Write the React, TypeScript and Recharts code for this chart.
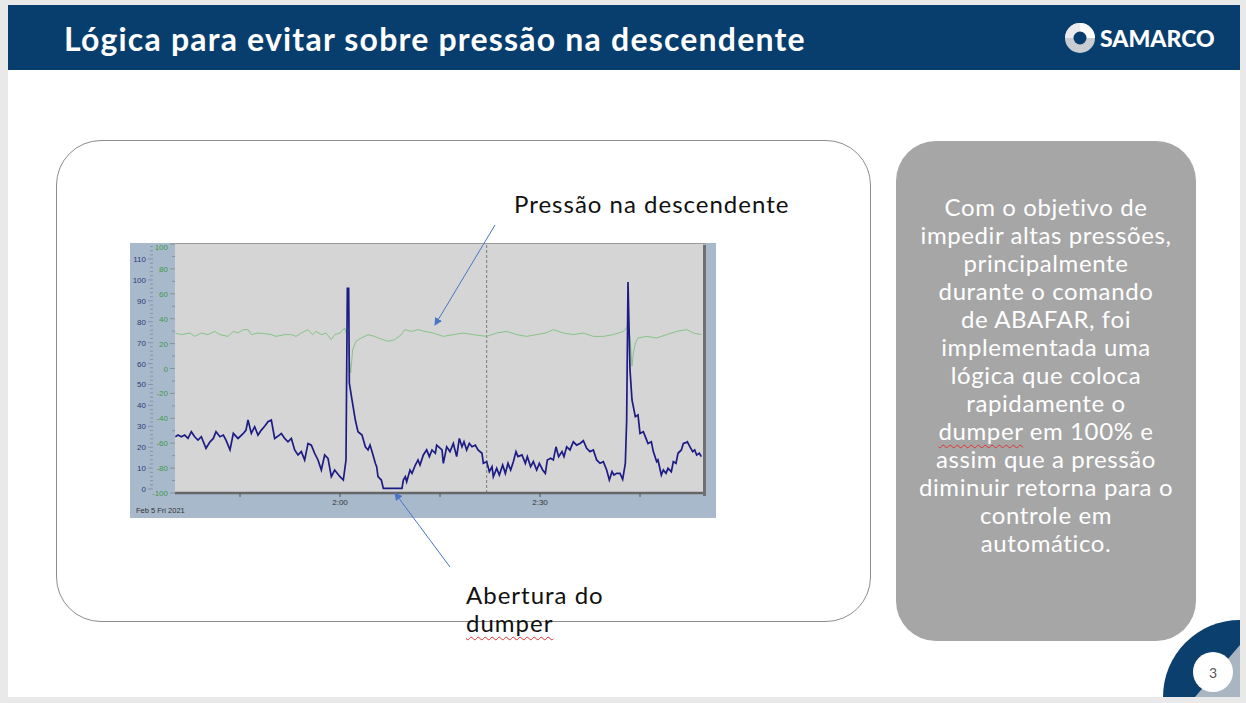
import React from "react";
import {
  ComposedChart,
  Line,
  XAxis,
  YAxis,
  CartesianGrid,
  ReferenceLine,
} from "recharts";

// ---- Data (time in minutes since midnight) ----
const blueTimes = [
  95.3, 95.7, 96.2, 96.7, 97.2, 97.7, 98.2, 98.7, 99.2, 99.9, 100.5, 101.0, 101.4, 102.0, 102.5, 102.9,
  103.5, 104.0, 104.7, 105.5, 105.9, 106.2, 106.7, 107.2, 107.7, 108.2, 108.7, 109.2, 109.7, 110.2,
  110.9, 111.2, 111.7, 112.2, 112.7, 113.2, 113.7, 114.2, 114.7, 115.2, 115.7, 116.2, 116.7, 117.2,
  117.7, 118.2, 118.7, 119.2, 120.0, 120.5, 120.9, 121.1, 121.3, 121.4, 121.8, 122.3, 122.7, 123.3,
  123.8, 124.2, 124.5, 124.8, 125.3, 125.5, 125.7, 126.2, 126.5, 129.3, 129.5, 129.8, 130.0, 130.5,
  130.8, 131.3, 131.7, 132.0, 132.5, 133.0, 133.4, 133.8, 134.3, 134.5, 135.3, 135.5, 136.0, 136.5,
  137.0, 137.5, 137.9, 138.3, 138.6, 139.0, 139.4, 139.8, 140.3, 140.7, 141.3, 141.5, 142.0, 142.4,
  142.8, 143.0, 143.5, 143.9, 144.4, 144.8, 145.2, 145.6, 146.0, 146.4, 146.7, 147.3, 147.8, 148.1,
  148.6, 149.0, 149.5, 149.9, 150.4, 150.8, 151.1, 151.6, 152.0, 152.4, 152.8, 153.3, 153.6, 154.0,
  154.5, 155.0, 155.5, 156.0, 156.5, 157.0, 157.5, 158.0, 158.5, 159.0, 159.5, 160.0, 160.4, 160.8,
  161.1, 161.5, 162.0, 162.4, 162.8, 163.0, 163.2, 163.5, 163.8, 164.3, 164.7, 165.0, 165.5, 165.9,
  166.2, 166.7, 167.0, 167.5, 167.7, 168.2, 168.5, 168.9, 169.2, 169.7, 170.0, 170.4, 170.7, 171.2,
  171.5, 171.9, 172.1, 172.5, 172.9, 173.2, 173.5, 173.9, 174.2,
];
const blueValues = [
  25, 25.8, 25, 25.8, 24.2, 27.4, 25, 23.4, 25, 19.5, 22.6, 24.2, 27.4, 25, 25.8, 23.4,
  18.7, 26.6, 24.2, 26.6, 28.2, 33, 26.6, 29.8, 25.8, 28.2, 30, 32.2, 33, 24.2,
  25.8, 26.6, 24.2, 22.6, 24.2, 18.7, 16.3, 17.9, 13.9, 21.8, 21, 17.1, 13.9, 9.1,
  16.3, 14.7, 5.9, 9.1, 5.9, 4.3, 13.9, 96, 96, 50.7, 42.6, 33, 27.4, 25.8,
  20.2, 18.7, 21, 17.9, 12.3, 10.7, 5.9, 4.3, 0.3, 0.3, 4.3, 5.9, 3.5, 9.1,
  7.5, 11.5, 13.9, 11.5, 16.3, 18.7, 15.5, 18.7, 17.1, 21, 18.7, 12.3, 20.2, 17.9,
  21.8, 15.5, 24.2, 20.2, 22.6, 18.7, 21.8, 20.2, 21, 18.7, 17.1, 12.3, 13.1, 8.3,
  10.7, 5.9, 9.9, 6.7, 11.5, 7.5, 12.3, 9.1, 13.1, 17.9, 15.5, 16.3, 12.3, 15.5,
  10.7, 13.1, 9.1, 12.3, 9.1, 7.5, 13.9, 14.7, 13.9, 20.2, 15.5, 17.9, 15.5, 20.2,
  18.7, 22.6, 21, 21.8, 23.1, 19.5, 17.9, 18.7, 13.9, 12.3, 13.1, 9.1, 4.3, 8.3,
  6.7, 7.5, 7.5, 4.6, 12.3, 33, 99, 57, 42.6, 34.6, 35.4, 26.6, 27.4, 24.2,
  21.8, 22.6, 17.9, 13.1, 13.9, 6.7, 9.1, 7.5, 9.9, 8.3, 13.1, 12.3, 17.1, 18.7,
  21.8, 22.2, 22.6, 20.2, 17.9, 18.7, 16.3, 17.1, 15.5,
];
const greenTimes = [
  95.3, 96.2, 97.5, 98.2, 99.2, 100.2, 101.2, 102.0, 103.2, 104.0, 104.7, 105.5, 106.2, 106.7, 107.7,
  108.7, 109.7, 110.4, 111.7, 112.7, 113.4, 114.2, 115.2, 115.9, 116.4, 117.2, 117.9, 118.7, 119.2,
  120.0, 120.7, 121.1, 121.6, 121.9, 122.4, 123.2, 124.2, 125.2, 126.2, 127.2, 128.2, 129.2, 129.7,
  130.7, 131.7, 132.7, 134.0, 135.5, 137.0, 138.5, 140.0, 142.0, 143.5, 145.0, 146.5, 148.0, 149.5,
  151.0, 152.0, 153.5, 155.0, 156.5, 158.0, 159.5, 161.0, 162.5, 163.1, 163.5, 163.8, 164.0, 164.3,
  164.7, 166.0, 167.5, 169.0, 170.5, 172.0, 173.0, 174.2,
];
const greenValues = [
  28.5, 27.2, 28.5, 25.8, 28.5, 27.2, 29.8, 27.2, 25.8, 29.8, 28.5, 31.2, 31.2, 27.2, 28.5,
  28, 27.2, 25.8, 27.2, 27.2, 25.8, 28.5, 31.2, 27.2, 29.8, 27.2, 28.5, 23.2, 27.2,
  28.5, 32.5, 25.8, -3.5, 15.2, 21.8, 24.5, 27.2, 25.8, 23.7, 21.8, 23.2, 27.2, 31.2,
  29.8, 31.2, 29.8, 28.5, 25.8, 27.2, 28.5, 27.2, 25.8, 28.5, 29.8, 27.2, 25.8, 27.2,
  28.8, 31.2, 28.5, 27.2, 28.5, 25.8, 25.8, 27.2, 29.8, 33.3, 25.8, 1.9, 12.5, 20.5,
  24.5, 25.8, 24.5, 27.2, 29.8, 31.2, 28.5, 27.2,
];
const xTicks = [105, 120, 135, 150, 165];
const xTickLabels: Record<number, string> = { 120: "2:00", 150: "2:30" };
const cursorTime = 142;
const blueTicks: number[] = [];
for (let v = 0; v <= 116; v += 2) blueTicks.push(v);
const greenTicks: number[] = [];
for (let v = -100; v <= 100; v += 10) greenTicks.push(v);

const blueData = blueTimes.map((t, i) => ({ t, v: blueValues[i] }));
const greenData = greenTimes.map((t, i) => ({ t, v: greenValues[i] }));

const textLines = [
  "Com o objetivo de",
  "impedir altas pressões,",
  "principalmente",
  "durante o comando",
  "de ABAFAR, foi",
  "implementada uma",
  "lógica que coloca",
  "rapidamente o",
  "DUMPER_LINE",
  "assim que a pressão",
  "diminuir retorna para o",
  "controle em",
  "automático.",
];

const wavy: React.CSSProperties = {
  textDecorationLine: "underline",
  textDecorationStyle: "wavy",
  textDecorationColor: "#e03030",
  textDecorationThickness: "1px",
  textUnderlineOffset: "4px",
};

const BlueTick = (props: any) => {
  const { x, y, payload } = props;
  const v = payload.value;
  const major = v % 10 === 0;
  return (
    <g>
      <line x1={x + (major ? 2 : 4)} x2={x + 7} y1={y} y2={y} stroke="#7a8aa6" strokeWidth={0.8} />
      {major && (
        <text x={x} y={y} dy={3} textAnchor="end" fontSize={8} fill="#2d3a78" fontFamily="Liberation Sans, Arial">
          {v}
        </text>
      )}
    </g>
  );
};

const GreenTick = (props: any) => {
  const { x, y, payload } = props;
  const v = payload.value;
  const major = v % 20 === 0;
  return (
    <g>
      <line x1={x + (major ? 2 : 4)} x2={x + 7} y1={y} y2={y} stroke="#7a8a8a" strokeWidth={0.8} />
      {major && (
        <text x={x} y={y} dy={v === 100 ? 6 : 3} textAnchor="end" fontSize={8} fill="#3f9a45" fontFamily="Liberation Sans, Arial">
          {v}
        </text>
      )}
    </g>
  );
};

const TimeTick = (props: any) => {
  const { x, y, payload } = props;
  const label = xTickLabels[payload.value] || "";
  return (
    <text x={x} y={y} dy={6} textAnchor="middle" fontSize={8} fill="#333" fontFamily="Liberation Sans, Arial">
      {label}
    </text>
  );
};

function TrendChart() {
  return (
    <div style={{ position: "absolute", left: 130, top: 243, width: 586, height: 275, background: "#a9b9cc" }}>
      <ComposedChart width={586} height={275} margin={{ top: 1, right: 13, bottom: 0, left: 0 }}>
        <CartesianGrid fill="#d5d5d5" horizontal={false} vertical={false} stroke="none" />
        <XAxis
          type="number"
          dataKey="t"
          domain={[95.25, 174.45]}
          allowDataOverflow
          ticks={xTicks}
          interval={0}
          height={25}
          tick={<TimeTick />}
          tickSize={4}
          tickMargin={2}
          stroke="#666"
          axisLine={{ stroke: "#666", strokeWidth: 2.5 }}
          tickLine={{ stroke: "#555" }}
        />
        <YAxis
          yAxisId="a1"
          type="number"
          domain={[-100, 100]}
          ticks={greenTicks}
          interval={0}
          width={22}
          tickSize={5}
          tickMargin={2}
          tickLine={false}
          axisLine={false}
          tick={<GreenTick />}
        />
        <YAxis
          yAxisId="a2"
          type="number"
          domain={[-1.9, 117.2]}
          allowDataOverflow
          ticks={blueTicks}
          interval={0}
          width={23}
          tickSize={5}
          tickMargin={2}
          tickLine={false}
          axisLine={false}
          tick={<BlueTick />}
        />
        <ReferenceLine x={cursorTime} yAxisId="a2" stroke="#7a7a7a" strokeDasharray="3 2" />
        <Line
          yAxisId="a1"
          data={greenData}
          dataKey="v"
          type="linear"
          stroke="#86c486"
          strokeWidth={1}
          dot={false}
          isAnimationActive={false}
        />
        <Line
          yAxisId="a2"
          data={blueData}
          dataKey="v"
          type="linear"
          stroke="#1c1c84"
          strokeWidth={1.7}
          dot={false}
          isAnimationActive={false}
        />
      </ComposedChart>
      <div style={{ position: "absolute", left: 45, top: 0, width: 531, height: 1, background: "#9a9a9a" }} />
      <div style={{ position: "absolute", left: 573, top: 2, width: 3, height: 251, background: "#707070" }} />
      <div
        style={{
          position: "absolute",
          left: 6,
          top: 263,
          fontSize: 7.5,
          color: "#333",
          fontFamily: "Liberation Sans, Arial",
          whiteSpace: "nowrap",
        }}
      >
        Feb 5 Fri 2021
      </div>
    </div>
  );
}

export default function App() {
  const font = "Lato, 'Open Sans', sans-serif";
  return (
    <div style={{ position: "fixed", left: 0, top: 0, width: 1246, height: 703, background: "#e9e9e9", overflow: "hidden", fontFamily: font }}>
      <div style={{ position: "absolute", left: 8, top: 5, width: 1232, height: 692, background: "#ffffff", overflow: "hidden" }}>
        {/* bottom-right decoration */}
        <div style={{ position: "absolute", left: 1155, top: 615, width: 154, height: 154, borderRadius: "50%", background: "#0a3f6e" }} />
        <svg style={{ position: "absolute", left: 0, top: 0 }} width={1232} height={692}>
          <polygon points="1187,692 1232,640 1232,692" fill="#aab5c2" />
        </svg>
        <div
          style={{
            position: "absolute",
            left: 1185,
            top: 647,
            width: 40,
            height: 40,
            borderRadius: "50%",
            background: "#fff",
            display: "flex",
            alignItems: "center",
            justifyContent: "center",
            fontSize: 14,
            color: "#555",
          }}
        >
          3
        </div>
      </div>
      {/* header */}
      <div style={{ position: "absolute", left: 8, top: 5, width: 1232, height: 65, background: "#073e6e" }} />
      <div style={{ position: "absolute", left: 64, top: 19, fontSize: 32, fontWeight: 700, color: "#fff", whiteSpace: "nowrap", lineHeight: "40px", letterSpacing: 1.2 }}>
        Lógica para evitar sobre pressão na descendente
      </div>
      <svg style={{ position: "absolute", left: 1064, top: 22 }} width={34} height={34}>
        <circle cx={16} cy={16} r={15} fill="#c9cdd2" />
        <path d="M16 1 A15 15 0 0 1 31 16 L16 16 Z" fill="#ffffff" />
        <path d="M1 16 A15 15 0 0 1 16 1 L16 16 Z" fill="#e9ebee" />
        <circle cx={16} cy={16} r={6.5} fill="#073e6e" />
      </svg>
      <div style={{ position: "absolute", left: 1100, top: 22, fontSize: 23, fontWeight: 900, color: "#fff", lineHeight: "32px", letterSpacing: 0 }}>
        SAMARCO
      </div>
      {/* left box */}
      <div style={{ position: "absolute", left: 56, top: 140, width: 813, height: 480, border: "1px solid #8c8c8c", borderRadius: 45 }} />
      <TrendChart />
      <div style={{ position: "absolute", left: 514, top: 189, fontSize: 24, color: "#111", whiteSpace: "nowrap", lineHeight: "30px", letterSpacing: 1 }}>
        Pressão na descendente
      </div>
      <div style={{ position: "absolute", left: 466, top: 581, fontSize: 24, color: "#111", whiteSpace: "nowrap", lineHeight: "28px", letterSpacing: 1 }}>
        Abertura do
        <br />
        <span style={wavy}>dumper</span>
      </div>
      <svg style={{ position: "absolute", left: 0, top: 0, pointerEvents: "none" }} width={1246} height={703}>
        <defs>
          <marker id="ah" markerWidth="8" markerHeight="8" refX="7" refY="4" orient="auto" markerUnits="userSpaceOnUse">
            <path d="M0,0 L8,4 L0,8 Z" fill="#4a76c6" />
          </marker>
        </defs>
        <line x1={495} y1={225} x2={435} y2={325} stroke="#4a76c6" strokeWidth={1} markerEnd="url(#ah)" />
        <line x1={450} y1={567} x2={395} y2={493} stroke="#4a76c6" strokeWidth={1} markerEnd="url(#ah)" />
      </svg>
      {/* right box */}
      <div
        style={{
          position: "absolute",
          left: 896,
          top: 141,
          width: 300,
          height: 500,
          background: "#a6a6a6",
          borderRadius: 40,
        }}
      />
      <div
        style={{
          position: "absolute",
          left: 896,
          top: 193,
          width: 300,
          textAlign: "center",
          fontSize: 24,
          lineHeight: "28px",
          letterSpacing: 0.6,
          color: "#fff",
        }}
      >
        {textLines.map((l, i) =>
          l === "DUMPER_LINE" ? (
            <div key={i}>
              <span style={wavy}>dumper</span> em 100% e
            </div>
          ) : (
            <div key={i}>{l}</div>
          )
        )}
      </div>
    </div>
  );
}
